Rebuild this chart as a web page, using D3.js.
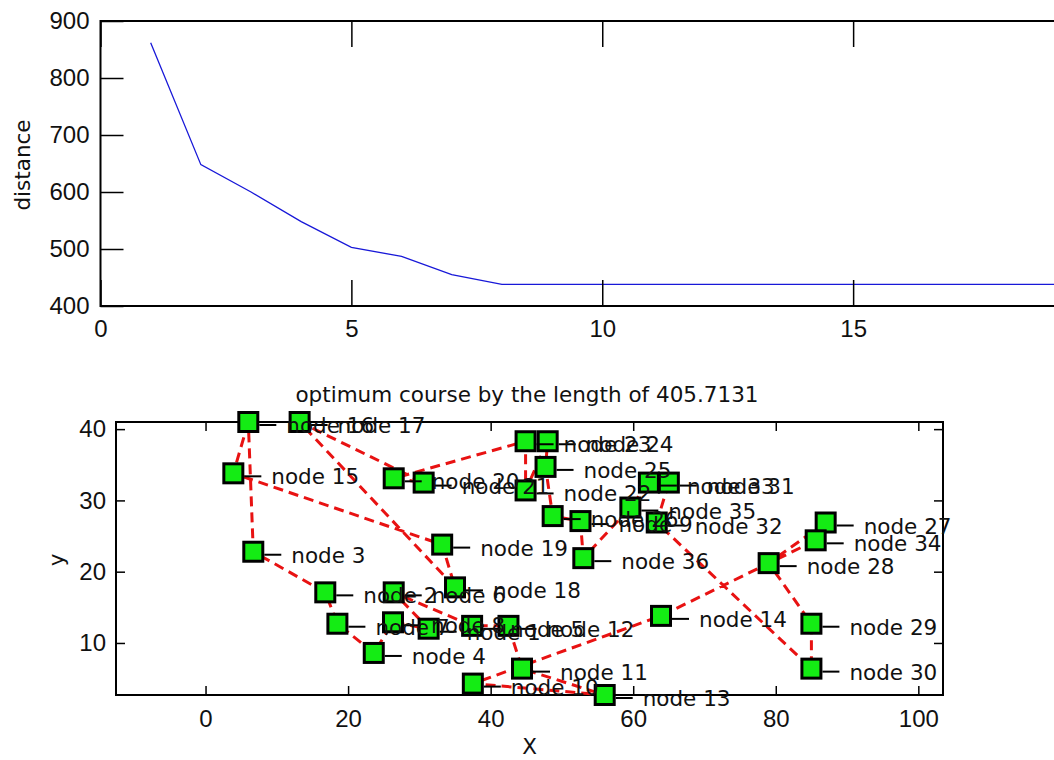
<!DOCTYPE html>
<html>
<head>
<meta charset="utf-8">
<script src="https://cdn.jsdelivr.net/npm/d3@7"></script>
<style>
  body { margin: 0; background: #fff; }
  svg { display: block; }
  .tick text { font-family: "Liberation Sans", Arial, sans-serif; font-size: 24px; fill: #111; }
  .tick line { stroke: #000; stroke-width: 1.5; }
  .lbl { font-family: "DejaVu Sans", sans-serif; font-size: 21.5px; fill: #111; }
</style>
</head>
<body>
<svg width="1054" height="760"></svg>
<script>
// best tour length after each iteration
var iterations = d3.range(1, 21);
var distances = [862, 648, 600, 548, 503, 487, 455, 438, 438, 438,
                 438, 438, 438, 438, 438, 438, 438, 438, 438, 438];
var iterTicks = [0, 5, 10, 15];
var distTicks = [400, 500, 600, 700, 800, 900];

// node coordinates, node i+1 at index i
var nodeX = [31.3, 16.8, 6.7, 23.6, 37.4, 26.4, 18.5, 26.3, 52.6, 37.5,
             44.4, 42.5, 56.0, 63.9, 3.9, 6.0, 13.2, 35.0, 33.2, 26.4,
             30.6, 44.9, 44.9, 48.0, 47.7, 48.7, 87.0, 79.0, 85.0, 85.0,
             65.0, 63.3, 62.2, 85.6, 59.6, 53.0];
var nodeY = [12.0, 17.1, 22.8, 8.6, 12.4, 17.1, 12.7, 12.9, 27.1, 4.3,
             6.4, 12.4, 2.7, 13.8, 33.8, 41.0, 41.0, 17.8, 23.8, 33.1,
             32.5, 31.4, 38.3, 38.3, 34.7, 27.8, 26.9, 21.2, 12.7, 6.4,
             32.5, 26.9, 32.5, 24.4, 29.0, 21.9];
// visiting order of the optimum course
var tour = [16, 15, 19, 18, 17, 21, 20, 23, 22, 24, 25, 26, 9, 36, 35, 33, 31, 32,
            30, 29, 28, 27, 34, 14, 10, 13, 11, 12, 5, 6, 1, 8, 4, 7, 2, 3];
var courseLength = "405.7131";
var xTicks = [0, 20, 40, 60, 80, 100];
var yTicks = [10, 20, 30, 40];

var svg = d3.select("svg");

// ---------- upper: distance per iteration ----------
var upper = {left: 100.5, right: 1104, top: 21, bottom: 306};
var xi = d3.scaleLinear().domain([0, 20]).range([upper.left, upper.right]);
var yd = d3.scaleLinear().domain([400, 900]).range([upper.bottom, upper.top]);

var g1 = svg.append("g");

g1.append("path")
  .datum(iterations)
  .attr("fill", "none")
  .attr("stroke", "#1818d8")
  .attr("stroke-width", 1.3)
  .attr("d", d3.line().x(function (d) { return xi(d); })
                      .y(function (d, i) { return yd(distances[i]); }));

var ax = g1.append("g").attr("transform", "translate(0," + upper.bottom + ")")
  .call(d3.axisBottom(xi).tickValues(iterTicks).tickSize(-26).tickPadding(14));
ax.select(".domain").remove();
var axt = g1.append("g").attr("transform", "translate(0," + upper.top + ")")
  .call(d3.axisTop(xi).tickValues(iterTicks).tickSize(-26).tickFormat(""));
axt.select(".domain").remove();
var ay = g1.append("g").attr("transform", "translate(" + upper.left + ",0)")
  .call(d3.axisLeft(yd).tickValues(distTicks).tickSize(-23).tickPadding(11));
ay.select(".domain").remove();

g1.append("rect")
  .attr("x", upper.left).attr("y", upper.top)
  .attr("width", upper.right - upper.left).attr("height", upper.bottom - upper.top)
  .attr("fill", "none").attr("stroke", "#000").attr("stroke-width", 2);

g1.append("text").attr("class", "lbl")
  .attr("transform", "translate(22,165) rotate(-90)")
  .attr("text-anchor", "middle").attr("dominant-baseline", "central")
  .text("distance");

// ---------- bottom: optimum course ----------
var box = {left: 116, right: 943, top: 422, bottom: 695};
var yExt = d3.extent(nodeY), xExt = d3.extent(nodeX);
var ky = (box.bottom - box.top) / (yExt[1] - yExt[0]);
var xMid = (xExt[0] + xExt[1]) / 2, xHalf = (box.right - box.left) / 2 / ky;
var xs = d3.scaleLinear().domain([xMid - xHalf, xMid + xHalf]).range([box.left, box.right]);
var ys = d3.scaleLinear().domain(yExt).range([box.bottom, box.top]);

var g2 = svg.append("g");

g2.append("text").attr("class", "lbl")
  .attr("x", 527).attr("y", 402).attr("text-anchor", "middle")
  .text("optimum course by the length of " + courseLength);

var bx = g2.append("g").attr("transform", "translate(0," + box.bottom + ")")
  .call(d3.axisBottom(xs).tickValues(xTicks).tickSize(-9).tickPadding(15));
bx.select(".domain").remove();
var bxt = g2.append("g").attr("transform", "translate(0," + box.top + ")")
  .call(d3.axisTop(xs).tickValues(xTicks).tickSize(-9).tickFormat(""));
bxt.select(".domain").remove();
var by = g2.append("g").attr("transform", "translate(" + box.left + ",0)")
  .call(d3.axisLeft(ys).tickValues(yTicks).tickSize(-9).tickPadding(10));
by.select(".domain").remove();
var byr = g2.append("g").attr("transform", "translate(" + box.right + ",0)")
  .call(d3.axisRight(ys).tickValues(yTicks).tickSize(-9).tickFormat(""));
byr.select(".domain").remove();

g2.append("rect")
  .attr("x", box.left).attr("y", box.top)
  .attr("width", box.right - box.left).attr("height", box.bottom - box.top)
  .attr("fill", "none").attr("stroke", "#000").attr("stroke-width", 2);

g2.append("text").attr("class", "lbl")
  .attr("x", (box.left + box.right) / 2).attr("y", 746)
  .attr("text-anchor", "middle").attr("dominant-baseline", "central")
  .text("X");
g2.append("text").attr("class", "lbl")
  .attr("transform", "translate(56,560) rotate(-90)")
  .attr("text-anchor", "middle").attr("dominant-baseline", "central")
  .text("y");

// route, closed loop
var route = tour.concat([tour[0]]);
g2.append("path")
  .datum(route)
  .attr("fill", "none")
  .attr("stroke", "#e81212")
  .attr("stroke-width", 3)
  .attr("stroke-dasharray", "10,6")
  .attr("d", d3.line().x(function (n) { return xs(nodeX[n - 1]); })
                      .y(function (n) { return ys(nodeY[n - 1]); }));

var nodes = d3.range(nodeX.length);

g2.selectAll("rect.node")
  .data(nodes)
  .enter().append("rect")
  .attr("class", "node")
  .attr("x", function (i) { return xs(nodeX[i]) - 9.5; })
  .attr("y", function (i) { return ys(nodeY[i]) - 9.5; })
  .attr("width", 19).attr("height", 19)
  .attr("fill", "#14ec14").attr("stroke", "#000").attr("stroke-width", 3);

//label: short dash then "node i"
g2.selectAll("line.dash")
  .data(nodes)
  .enter().append("line")
  .attr("class", "dash")
  .attr("x1", function (i) { return xs(nodeX[i]) + 11; })
  .attr("x2", function (i) { return xs(nodeX[i]) + 28; })
  .attr("y1", function (i) { return ys(nodeY[i]) + 3; })
  .attr("y2", function (i) { return ys(nodeY[i]) + 3; })
  .attr("stroke", "#000").attr("stroke-width", 2);

g2.selectAll("text.node")
  .data(nodes)
  .enter().append("text")
  .attr("class", "lbl node")
  .attr("x", function (i) { return xs(nodeX[i]) + 38; })
  .attr("y", function (i) { return ys(nodeY[i]) + 11; })
  .text(function (i) { return "node " + (i + 1); });
</script>
</body>
</html>
